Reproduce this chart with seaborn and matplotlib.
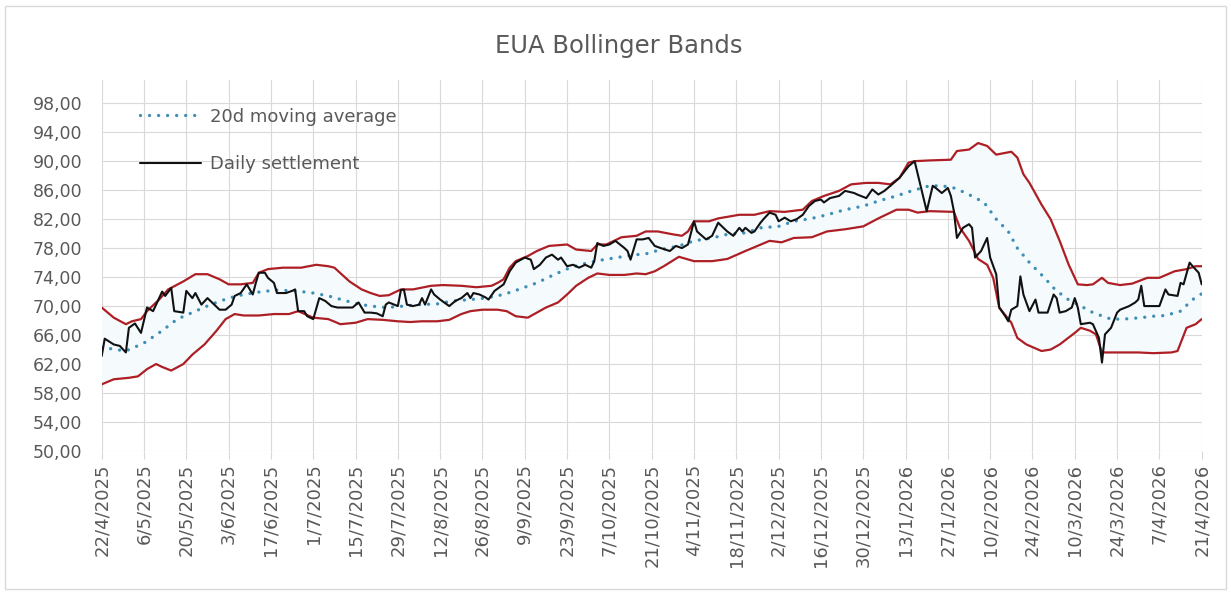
import numpy as np
import pandas as pd
import matplotlib
matplotlib.use("Agg")
import matplotlib.pyplot as plt
import matplotlib.dates as mdates
from matplotlib.patches import Rectangle
from matplotlib.lines import Line2D
import seaborn as sns

# ---------------- data (day offsets from START) -------------
START = "2025-04-22"

settle_day = [0, 1, 4, 6, 8, 9, 11, 13, 15, 17, 18, 20, 21, 23, 24, 27, 28, 30, 31, 33,
              35, 36, 39, 41, 43, 44, 46, 48, 50, 51, 52, 54, 55, 57, 58, 61, 63, 64, 65, 67,
              68, 70, 72, 74, 76, 78, 83, 85, 87, 89, 91, 93, 94, 95, 98, 99, 100, 101, 103, 105,
              106, 107, 109, 110, 112, 115, 117, 119, 121, 122, 123, 125, 127, 128, 130, 133, 135, 137, 140, 142,
              143, 145, 147, 149, 151, 152, 154, 156, 158, 160, 162, 163, 164, 166, 168, 170, 173, 174, 175, 177,
              179, 181, 183, 185, 188, 190, 192, 194, 196, 197, 200, 202, 204, 207, 209, 211, 212, 213, 215, 216,
              218, 219, 221, 223, 224, 226, 228, 230, 232, 234, 236, 238, 239, 241, 244, 246, 249, 250, 253, 255,
              257, 259, 261, 264, 267, 269, 273, 275, 276, 278, 280, 281, 282, 283, 285, 287, 288, 289, 291, 293,
              294, 296, 297, 299, 300, 301, 303, 304, 305, 307, 309, 310, 313, 315, 316, 317, 319, 321, 322, 323,
              324, 327, 328, 330, 331, 332, 334, 336, 337, 340, 342, 343, 344, 345, 348, 350, 352, 353, 356, 357,
              358, 360, 361, 363, 364]
settle_val = [63.1, 65.5, 64.7, 64.5, 63.6, 67.0, 67.6, 66.3, 69.8, 69.3, 70.2, 72.0, 71.4, 72.5, 69.3, 69.1, 72.1, 71.1, 71.8, 70.2,
              71.1, 70.7, 69.5, 69.5, 70.2, 71.4, 71.8, 73.0, 71.6, 73.2, 74.6, 74.6, 73.9, 73.2, 71.8, 71.8, 72.1, 72.3, 69.3, 69.3,
              68.6, 68.2, 71.1, 70.7, 70.0, 69.8, 69.8, 70.5, 69.1, 69.1, 69.0, 68.6, 70.2, 70.5, 70.0, 72.2, 72.3, 70.2, 70.0, 70.2,
              71.1, 70.2, 72.3, 71.6, 70.9, 70.0, 70.7, 71.1, 71.8, 71.1, 71.8, 71.6, 71.2, 70.9, 72.1, 73.0, 74.8, 76.0, 76.7, 76.4,
              75.1, 75.7, 76.7, 77.1, 76.4, 76.7, 75.5, 75.7, 75.3, 75.7, 75.3, 76.2, 78.7, 78.3, 78.5, 79.0, 78.0, 77.6, 76.4, 79.2,
              79.2, 79.4, 78.3, 78.0, 77.6, 78.3, 78.0, 78.5, 81.7, 80.3, 79.2, 79.7, 81.5, 80.3, 79.7, 80.8, 80.3, 80.8, 80.1, 80.3,
              81.5, 82.0, 82.9, 82.6, 81.7, 82.2, 81.7, 82.0, 82.6, 83.8, 84.5, 84.7, 84.3, 84.9, 85.2, 85.9, 85.6, 85.4, 84.9, 86.1,
              85.4, 85.9, 86.6, 87.7, 89.3, 90.0, 83.1, 86.6, 86.3, 85.6, 86.3, 85.2, 83.1, 79.4, 80.8, 81.3, 80.8, 76.7, 77.6, 79.4,
              76.7, 74.4, 69.8, 68.6, 67.9, 69.5, 70.0, 74.1, 71.6, 69.3, 70.9, 69.1, 69.1, 71.6, 71.1, 69.1, 69.3, 69.8, 71.1, 69.8,
              67.5, 67.7, 67.5, 65.6, 62.2, 66.1, 67.0, 69.1, 69.5, 70.0, 70.5, 70.9, 72.8, 70.0, 70.0, 70.0, 72.3, 71.6, 71.4, 73.2,
              73.0, 76.0, 75.5, 74.6, 73.0]

ma_day = [0, 8, 14, 20, 25, 31, 36, 42, 47, 53, 58, 64, 70, 75, 81, 86,
          89, 94, 100, 105, 111, 116, 122, 127, 133, 138, 144, 150, 155, 161, 166, 172, 177,
          180, 185, 191, 196, 202, 207, 213, 218, 224, 229, 235, 240, 246, 252, 257, 263, 268, 274,
          276, 280, 282, 286, 292, 296, 300, 303, 307, 312, 315, 319, 324, 328, 334, 338, 344, 348, 352, 357, 361, 364]
ma_val = [64.3, 63.8, 64.9, 66.6, 68.2, 69.3, 70.2, 71.1, 71.6, 72.0, 72.2, 72.1, 71.8, 71.4, 70.7, 70.2,
          70.0, 69.8, 70.0, 70.2, 70.3, 70.7, 70.9, 71.1, 71.6, 72.3, 73.2, 74.4, 75.3, 76.0, 76.4, 76.8, 77.1,
          77.2, 77.8, 78.3, 79.0, 79.4, 79.9, 80.1, 80.8, 81.0, 81.7, 82.1, 82.6, 83.3, 83.8, 84.5, 85.2, 85.9, 86.6,
          86.6, 86.5, 86.3, 85.6, 84.3, 82.0, 80.3, 78.0, 76.0, 73.9, 72.5, 71.1, 70.0, 69.1, 68.2, 68.2, 68.4, 68.6, 68.7, 69.3, 70.9, 71.7]

upper_day = [0, 2, 4, 8, 10, 13, 15, 19, 22, 27, 31, 35, 39, 42, 46, 50, 52, 55, 60, 66, 71, 75, 77, 82, 86,
             89, 92, 95, 99, 103, 109, 113, 119, 124, 129, 131, 133, 135, 137, 141, 144, 148, 154, 157, 162, 164, 167, 172, 177,
             180, 184, 189, 192, 194, 196, 201, 204, 211, 216, 221, 226, 232, 235, 239, 244, 248, 253, 257, 261, 264, 267, 269, 274,
             281, 283, 287, 290, 293, 296, 301, 303, 305, 307, 311, 314, 317, 320, 323, 326, 328, 331, 333, 337, 341, 346, 350, 355, 359, 362, 364]
upper_val = [69.8, 69.1, 68.4, 67.5, 67.9, 68.2, 69.3, 70.9, 72.3, 73.4, 74.4, 74.4, 73.7, 73.0, 73.0, 73.2, 74.6, 75.1, 75.3, 75.3, 75.7, 75.5, 75.3, 73.4, 72.3,
             71.8, 71.4, 71.5, 72.3, 72.3, 72.8, 72.9, 72.8, 72.6, 72.8, 73.2, 73.7, 75.3, 76.2, 76.9, 77.6, 78.3, 78.5, 77.8, 77.6, 78.5, 78.5, 79.5, 79.7,
             80.3, 80.3, 79.9, 79.7, 80.3, 81.7, 81.7, 82.1, 82.6, 82.6, 83.1, 83.0, 83.3, 84.5, 85.2, 85.9, 86.8, 87.0, 87.0, 86.8, 87.7, 89.8, 90.0, 90.1,
             90.2, 91.4, 91.6, 92.5, 92.1, 90.9, 91.3, 90.5, 88.2, 87.0, 84.0, 82.0, 79.0, 75.7, 73.0, 72.9, 73.0, 73.9, 73.2, 72.9, 73.1, 73.9, 73.9, 74.8, 75.1, 75.5, 75.5]

lower_day = [0, 4, 9, 12, 15, 18, 20, 23, 27, 30, 34, 38, 41, 44, 47, 52, 57, 62, 65, 70, 75, 79, 84, 88,
             93, 98, 102, 106, 111, 115, 119, 122, 126, 131, 134, 137, 141, 144, 147, 151, 154, 157, 161, 164, 168, 173, 177,
             180, 183, 186, 191, 196, 202, 207, 213, 217, 221, 225, 229, 235, 240, 246, 252, 257, 263, 267, 270, 274,
             282, 284, 287, 290, 293, 295, 297, 301, 303, 306, 311, 314, 317, 322, 324, 327, 329, 331, 337, 343, 348, 354, 356, 359, 362, 364]
lower_val = [59.2, 59.9, 60.1, 60.3, 61.3, 62.0, 61.6, 61.1, 62.0, 63.3, 64.7, 66.6, 68.2, 68.9, 68.7, 68.7, 68.9, 68.9, 69.3, 68.4, 68.2, 67.5, 67.7, 68.2,
             68.1, 67.9, 67.8, 67.9, 67.9, 68.1, 68.9, 69.3, 69.5, 69.5, 69.3, 68.6, 68.4, 69.1, 69.8, 70.5, 71.6, 72.8, 73.9, 74.5, 74.3, 74.3, 74.5,
             74.4, 74.8, 75.5, 76.8, 76.2, 76.2, 76.5, 77.6, 78.3, 79.0, 78.8, 79.4, 79.5, 80.3, 80.6, 81.0, 82.1, 83.3, 83.3, 82.9, 83.1,
             83.0, 80.8, 79.0, 76.5, 75.7, 73.9, 69.8, 67.7, 65.6, 64.7, 63.8, 64.0, 64.7, 66.3, 67.0, 66.6, 66.1, 63.6, 63.6, 63.6, 63.5, 63.6, 63.8, 67.0, 67.5, 68.2]

x_tick_labels = ["22/4/2025", "6/5/2025", "20/5/2025", "3/6/2025", "17/6/2025", "1/7/2025",
                 "15/7/2025", "29/7/2025", "12/8/2025", "26/8/2025", "9/9/2025", "23/9/2025",
                 "7/10/2025", "21/10/2025", "4/11/2025", "18/11/2025", "2/12/2025", "16/12/2025",
                 "30/12/2025", "13/1/2026", "27/1/2026", "10/2/2026", "24/2/2026", "10/3/2026",
                 "24/3/2026", "7/4/2026", "21/4/2026"]
y_ticks = [50, 54, 58, 62, 66, 70, 74, 78, 82, 86, 90, 94, 98]

TITLE = "EUA Bollinger Bands"
LABEL_MA = "20d moving average"
LABEL_SETTLE = "Daily settlement"

# ---------------- styling -------------
sns.set_theme(style="white")
plt.rcParams["font.family"] = ["DejaVu Sans"]
TXT = "#595959"
GRID = "#d9d9d9"
RED = "#ad1f24"
BLUE = "#3e8eb5"
BLACK = "#111111"

start = pd.Timestamp(START)
def to_dates(days):
    return start + pd.to_timedelta(np.asarray(days, dtype=float), unit="D")

W, H = 1231, 593
fig = plt.figure(figsize=(W / 100, H / 100), dpi=100)
fig.patch.set_facecolor("white")
ax = fig.add_axes([101.7 / W, 1 - 451 / H, 1100.0 / W, 371 / H])

# faint fill between the bands
up_x = mdates.date2num(to_dates(upper_day))
lo_x = mdates.date2num(to_dates(lower_day))
ax.fill(np.concatenate([up_x, lo_x[::-1]]),
        np.concatenate([upper_val, lower_val[::-1]]),
        color="#f5fafd", lw=0, zorder=1)

sns.lineplot(x=to_dates(upper_day), y=upper_val, ax=ax, color=RED, lw=1.6,
             estimator=None, sort=False, zorder=3)
sns.lineplot(x=to_dates(lower_day), y=lower_val, ax=ax, color=RED, lw=1.6,
             estimator=None, sort=False, zorder=3)
sns.lineplot(x=to_dates(ma_day), y=ma_val, ax=ax, color=BLUE, lw=2.4,
             linestyle=(0, (0.01, 2.7)), dash_capstyle="round",
             estimator=None, sort=False, zorder=4)
sns.lineplot(x=to_dates(settle_day), y=settle_val, ax=ax, color=BLACK, lw=1.5,
             estimator=None, sort=False, zorder=5)

# axes
tick_dates = pd.to_datetime(x_tick_labels, format="%d/%m/%Y")
ax.set_xlim(tick_dates[0], tick_dates[-1])
ax.set_ylim(50, 101.2)
ax.set_xticks(tick_dates)
ax.set_xticklabels(x_tick_labels, rotation=90, color=TXT, fontsize=13)
ax.set_yticks(y_ticks)
ax.set_yticklabels([f"{v:.2f}".replace(".", ",") for v in y_ticks], color=TXT, fontsize=12.5)
ax.tick_params(axis="x", length=6, width=0.8, color=GRID, pad=3, direction="out", bottom=True)
ax.tick_params(axis="y", length=0, pad=14)
ax.grid(True, color=GRID, lw=0.8)
ax.set_axisbelow(True)
for s in ax.spines.values():
    s.set_visible(False)
ax.set_xlabel("")
ax.set_ylabel("")

# legend (only the two named series)
h_ma = Line2D([], [], color=BLUE, lw=2.4, linestyle=(0, (0.01, 2.7)), dash_capstyle="round")
h_st = Line2D([], [], color=BLACK, lw=1.5)
leg = fig.legend(handles=[h_ma, h_st], labels=[LABEL_MA, LABEL_SETTLE],
                 loc="upper left", bbox_to_anchor=(140 / W, 1 - 107.5 / H),
                 frameon=False, fontsize=13, handlelength=3.4, handletextpad=0.5,
                 labelspacing=1.65, borderpad=0, borderaxespad=0)
for t in leg.get_texts():
    t.set_color(TXT)

fig.text(619 / W, 1 - 53 / H, TITLE, ha="center", va="baseline", fontsize=17.5, color=TXT)

fig.patches.append(Rectangle((5 / W, 4 / H), 1221 / W, 583 / H, transform=fig.transFigure,
                             fill=False, edgecolor=GRID, lw=1))

fig.savefig("out.png", dpi=100, facecolor="white")
